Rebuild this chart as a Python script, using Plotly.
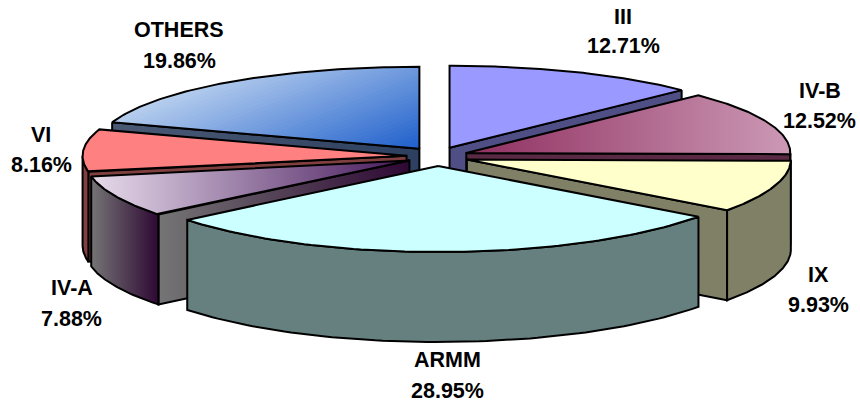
import numpy as np
import plotly.graph_objects as go

regions = ["III", "IV-B", "IX", "ARMM", "IV-A", "VI", "OTHERS"]
shares = [12.71, 12.52, 9.93, 28.95, 7.88, 8.16, 19.86]

# top face fill and wall fill of each slice, (left, right) pairs are gradients
top_colors = [("#9999ff", "#9999ff"), ("#8f2f60", "#cc99b5"), ("#ffffcc", "#ffffcc"),
              ("#ccffff", "#ccffff"), ("#e8dcec", "#45175a"), ("#ff8080", "#ff8080"),
              ("#b8cfee", "#1f60cc")]
wall_colors = [("#4f4f85", "#4f4f85"), ("#5a2a45", "#5a2a45"), ("#808066", "#808066"),
               ("#668080", "#668080"), ("#757575", "#2e0834"), ("#804040", "#804040"),
               ("#4a5a75", "#2e4060")]

# pie geometry in page pixels
CX, CY = 437.5, 156.5
RX, RY = 324, 84
PULL_X, PULL_Y = 31, 9.5
DEPTH = 90
DIAGONAL = "OTHERS"  # this top face has a slanted gradient
DIAG_DIR = (0.0027, 0.00655)
DIAG_BANDS = 40

# label centres, name line then percent line
label_pos = {
    "III": (623, 17, 623.5, 46),
    "IV-B": (819.5, 91, 819.5, 121),
    "IX": (818.5, 275, 818.5, 305),
    "ARMM": (447, 360, 447, 391),
    "IV-A": (71.5, 288, 71, 319),
    "VI": (41, 135, 41, 165),
    "OTHERS": (178.5, 30, 179, 61),
}


def add_poly(fig, xs, ys, colors):
    fig.add_trace(go.Scatter(
        x=list(xs) + [xs[0]], y=list(ys) + [ys[0]], mode="lines", fill="toself",
        fillgradient=dict(type="horizontal", colorscale=[[0, colors[0]], [1, colors[1]]]),
        line=dict(color="black", width=2), hoverinfo="skip", showlegend=False,
    ))


def arc(ax, ay, t0, t1):
    t = np.radians(np.linspace(t0, t1, 80))
    # slight perspective, the near half of the ellipse is a bit taller
    return ax + RX * np.sin(t), ay - (RY - 2 * np.cos(t)) * np.cos(t)


def clip_above(pts, level):
    # keep the part of the polygon where the gradient position is >= level
    out = []
    for p, q in zip(pts, pts[1:] + pts[:1]):
        sp = p[0] * DIAG_DIR[0] + p[1] * DIAG_DIR[1] - level
        sq = q[0] * DIAG_DIR[0] + q[1] * DIAG_DIR[1] - level
        if sp >= 0:
            out.append(p)
        if sp * sq < 0:
            k = sp / (sp - sq)
            out.append((p[0] + k * (q[0] - p[0]), p[1] + k * (q[1] - p[1])))
    return out


def add_diagonal(fig, xs, ys, colors):
    pts = list(zip(xs, ys))
    pos = [x * DIAG_DIR[0] + y * DIAG_DIR[1] for x, y in pts]
    lo, hi = min(pos), max(pos)
    c0 = np.array([int(colors[0][j:j + 2], 16) for j in (1, 3, 5)])
    c1 = np.array([int(colors[1][j:j + 2], 16) for j in (1, 3, 5)])
    # each band is painted over the previous one so no seams show
    for k in range(DIAG_BANDS):
        f = k / DIAG_BANDS
        part = clip_above(pts, lo + f * (hi - lo))
        rgb = c0 + (c1 - c0) * (f + 0.5 / DIAG_BANDS)
        fig.add_trace(go.Scatter(
            x=[p[0] for p in part], y=[p[1] for p in part], mode="none", fill="toself",
            fillcolor="rgb(%d,%d,%d)" % tuple(rgb), hoverinfo="skip", showlegend=False,
        ))
    fig.add_trace(go.Scatter(
        x=list(xs) + [xs[0]], y=list(ys) + [ys[0]], mode="lines",
        line=dict(color="black", width=2), hoverinfo="skip", showlegend=False,
    ))


cum = np.cumsum([0] + shares) / sum(shares) * 360
fig = go.Figure()

# back slices first, ARMM last
for i in [6, 5, 4, 0, 1, 2, 3]:
    t0, t1 = cum[i], cum[i + 1]
    mid = np.radians((t0 + t1) / 2)
    ax = CX + PULL_X * np.sin(mid)
    ay = CY - PULL_Y * np.cos(mid)

    # visible cut face
    if 0 < t1 < 180 or 180 < t0 < 360:
        t = t1 if t1 < 180 else t0
        ex, ey = arc(ax, ay, t, t)
        add_poly(fig, [ex[0], ax, ax, ex[0]], [ey[0], ay, ay + DEPTH, ey[0] + DEPTH], wall_colors[i])

    # outer wall, only the part facing the viewer
    a, b = max(t0, 90), min(t1, 270)
    if a < b:
        wx, wy = arc(ax, ay, a, b)
        add_poly(fig, list(wx) + list(wx[::-1]), list(wy) + list(wy[::-1] + DEPTH), wall_colors[i])

    tx, ty = arc(ax, ay, t0, t1)
    if regions[i] == DIAGONAL:
        add_diagonal(fig, [ax] + list(tx), [ay] + list(ty), top_colors[i])
    else:
        add_poly(fig, [ax] + list(tx), [ay] + list(ty), top_colors[i])

for name, share in zip(regions, shares):
    nx, ny, px, py = label_pos[name]
    for text, x, y in [(name, nx, ny), (f"{share:.2f}%", px, py)]:
        fig.add_annotation(x=x, y=y, text=f"<b>{text}</b>", showarrow=False,
                           font=dict(family="Liberation Sans", size=21.5, color="black"))

fig.update_layout(
    width=860, height=404, margin=dict(l=0, r=0, t=0, b=0),
    paper_bgcolor="white", plot_bgcolor="white", showlegend=False,
    xaxis=dict(range=[0, 860], visible=False, fixedrange=True),
    yaxis=dict(range=[404, 0], visible=False, fixedrange=True),
)
# page body has a default margin, the chart should fill the window
fig.write_html("out.html", config=dict(displayModeBar=False),
               post_script="document.body.style.margin='0';document.documentElement.style.overflow='hidden';")
